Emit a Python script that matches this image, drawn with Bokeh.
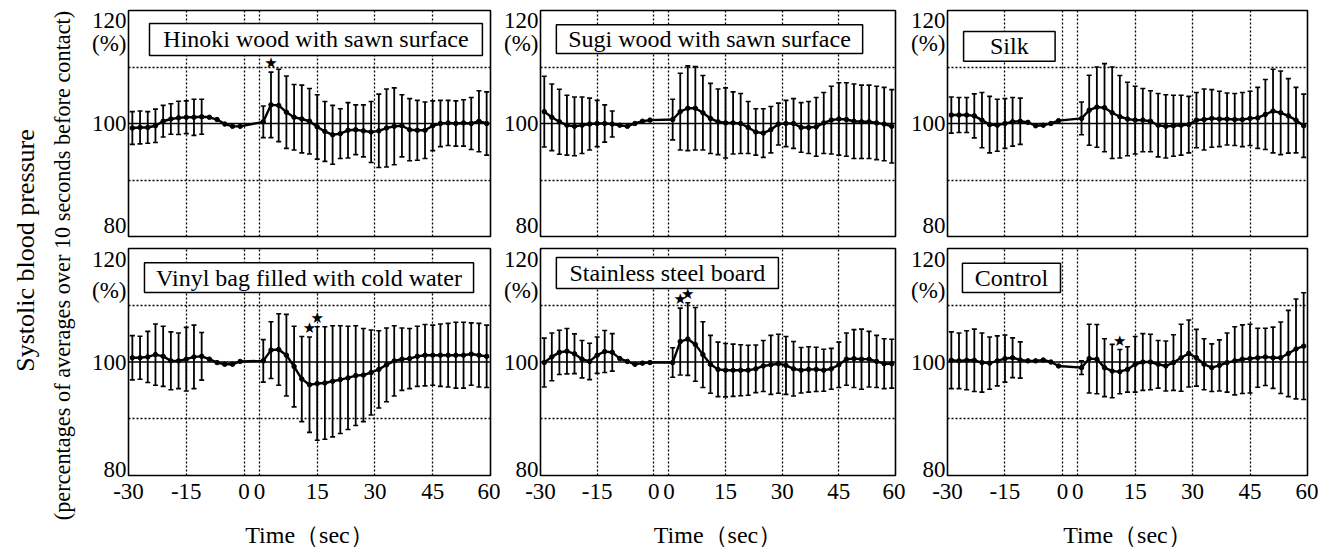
from math import pi
from bokeh.plotting import figure
from bokeh.models import (ColumnDataSource, Whisker, TeeHead, Span, Label,
                          BoxAnnotation, FixedTicker, Range1d)
from bokeh.layouts import row, column
from bokeh.embed import file_html
from bokeh.resources import INLINE
from bokeh.core.properties import value

# ---------------- data ----------------
pre_time = [-29, -27, -25, -23, -21, -19, -17, -15, -13, -11, -9, -7, -5, -3, -1]
post_time = [1, 3, 5, 7, 9, 11, 13, 15, 17, 19, 21, 23, 25, 27, 29,
             31, 33, 35, 37, 39, 41, 43, 45, 47, 49, 51, 53, 55, 57, 59]

pre_tick_times = [-30, -15, 0]
post_tick_times = [0, 15, 30, 45, 60]

hinoki_pre_mean = [99.2, 99.3, 99.3, 99.6, 100.4, 100.8, 101.0, 101.1, 101.1, 101.2, 101.1, 100.7, 99.9, 99.5, 99.5]
hinoki_pre_sd = [2.9, 2.9, 2.8, 2.95, 2.8, 2.7, 2.95, 2.9, 3.2, 3.1, None, None, None, None, None]
hinoki_post_mean = [100.3, 103.3, 103.2, 102.0, 101.1, 100.8, 100.4, 99.4, 98.6, 98.0, 98.2, 98.8, 98.9, 98.7, 98.5,
                    98.7, 99.2, 99.5, 99.6, 98.9, 98.8, 98.8, 99.6, 100.0, 100.1, 100.0, 100.1, 100.0, 100.4, 100.0]
hinoki_post_sd = [2.8, 5.8, 6.4, 6.4, 5.8, 6.0, 5.8, 5.7, 5.3, 5.2, 4.4, 4.9, 4.4, 4.6, 5.4,
                  6.5, 6.9, 6.8, 5.5, 5.5, 5.3, 5.0, 4.4, 4.1, 4.0, 4.0, 4.1, 4.6, 5.4, 5.6]
hinoki_stars = [3]

sugi_pre_mean = [102.1, 101.1, 100.3, 99.7, 99.5, 99.7, 99.9, 100.0, 100.0, 99.9, 99.7, 99.5, 100.0, 100.4, 100.6]
sugi_pre_sd = [6.25, 5.9, 5.75, 5.3, 5.2, 5.0, 4.6, 4.1, 3.3, 2.3, None, None, None, None, None]
sugi_post_mean = [100.7, 102.1, 102.7, 102.7, 101.9, 100.9, 100.3, 100.1, 100.1, 100.0, 99.3, 98.5, 98.3, 98.9, 99.9,
                  100.0, 100.0, 99.3, 99.3, 99.4, 100.1, 100.6, 100.8, 100.7, 100.4, 100.3, 100.3, 100.1, 99.9, 99.5]
sugi_post_sd = [3.6, 6.8, 7.5, 7.4, 6.6, 6.2, 5.8, 6.2, 5.5, 5.3, 4.6, 4.1, 4.3, 4.1, 3.7,
                4.1, 4.4, 4.4, 4.6, 5.2, 5.4, 6.0, 6.4, 6.5, 6.6, 6.5, 6.5, 6.5, 6.5, 6.5]
sugi_stars = []

silk_pre_mean = [101.5, 101.5, 101.5, 101.35, 100.6, 99.8, 99.7, 100.0, 100.3, 100.4, 100.2, 99.6, 99.7, 100.0, 100.5]
silk_pre_sd = [3.2, 3.1, 3.1, 3.9, 4.9, 5.0, 4.6, 4.4, 4.3, 4.1, None, None, None, None, None]
silk_post_mean = [100.9, 102.35, 102.9, 102.8, 101.9, 101.2, 100.8, 100.6, 100.6, 100.4, 99.7, 99.5, 99.6, 99.7, 99.8,
                  100.6, 100.7, 100.9, 100.8, 100.8, 100.7, 100.7, 100.9, 101.0, 101.6, 102.2, 101.9, 101.35, 100.6, 99.6]
silk_post_sd = [2.9, 6.2, 7.1, 7.8, 8.1, 7.3, 6.5, 6.0, 5.6, 5.4, 5.6, 5.6, 5.4, 5.3, 5.0,
                4.9, 5.4, 5.1, 4.9, 4.6, 4.6, 4.8, 4.8, 5.4, 6.2, 7.4, 7.4, 6.6, 5.8, 5.6]
silk_stars = []

vinyl_pre_mean = [100.75, 100.75, 100.9, 101.3, 101.0, 100.2, 100.2, 100.5, 100.9, 101.0, 100.5, 99.9, 99.6, 99.6, 100.1]
vinyl_pre_sd = [3.9, 3.8, 4.5, 5.4, 5.3, 5.1, 4.9, 5.6, 5.6, 4.2, None, None, None, None, None]
vinyl_post_mean = [100.2, 102.1, 102.2, 101.2, 99.2, 97.0, 96.0, 96.2, 96.3, 96.6, 96.9, 97.2, 97.6, 97.7, 98.15,
                   98.7, 99.5, 100.2, 100.5, 100.6, 101.0, 101.2, 101.2, 101.2, 101.2, 101.2, 101.2, 101.4, 101.2, 101.0]
vinyl_post_sd = [3.75, 5.0, 6.3, 7.2, 7.1, 7.5, 8.4, 10.0, 9.9, 9.8, 9.5, 9.1, 8.8, 8.2, 7.5,
                 6.8, 6.5, 6.2, 5.5, 5.3, 5.3, 5.4, 5.3, 5.5, 5.6, 5.8, 5.8, 5.5, 5.6, 5.5]
vinyl_stars = [13, 15]

steel_pre_mean = [99.9, 100.9, 101.7, 101.9, 101.45, 100.5, 100.1, 101.2, 101.85, 101.7, 100.6, 100.1, 99.6, 99.8, 99.9]
steel_pre_sd = [4.3, 4.2, 3.9, 4.0, 3.5, 3.3, 3.2, 3.2, 3.7, 3.3, None, None, None, None, None]
steel_post_mean = [99.9, 103.6, 104.05, 103.1, 101.3, 99.6, 98.7, 98.55, 98.55, 98.55, 98.55, 98.8, 99.3, 99.5, 99.7,
                   99.4, 98.8, 98.55, 98.7, 98.7, 98.55, 98.8, 99.5, 100.5, 100.6, 100.5, 100.5, 100.1, 99.7, 99.7]
steel_post_sd = [2.6, 5.9, 6.4, 6.5, 5.8, 5.1, 4.8, 4.7, 4.6, 4.5, 4.4, 4.2, 4.5, 5.2, 5.2,
                 5.1, 4.8, 4.0, 4.0, 3.9, 3.7, 3.6, 4.0, 4.6, 5.1, 5.3, 4.9, 4.6, 4.4, 4.3]
steel_stars = [3, 5]

control_pre_mean = [100.3, 100.2, 100.3, 100.3, 99.9, 99.8, 100.2, 100.6, 100.75, 100.35, 100.2, 100.2, 100.35, 100.0, 99.3]
control_pre_sd = [5.0, 4.9, 5.2, 5.5, 5.2, 4.6, 4.4, 4.15, 3.5, 3.2, None, None, None, None, None]
control_post_mean = [99.0, 100.6, 100.5, 99.0, 98.4, 98.3, 98.7, 99.6, 100.0, 100.0, 99.6, 99.3, 99.9, 100.75, 101.5,
                     100.75, 99.6, 99.0, 99.4, 99.9, 100.2, 100.5, 100.6, 100.75, 100.9, 100.75, 100.75, 101.5, 102.3, 102.8]
control_post_sd = [1.2, 6.05, 6.1, 5.1, 4.7, 3.9, 4.0, 4.9, 5.0, 4.9, 4.2, 4.4, 4.9, 5.9, 5.9,
                   5.0, 4.5, 4.2, 4.5, 5.2, 6.0, 6.05, 6.05, 5.2, 5.05, 5.4, 6.3, 7.6, 8.8, 9.4]
control_stars = [11]

titles = ["Hinoki wood with sawn surface", "Sugi wood with sawn surface", "Silk",
          "Vinyl bag filled with cold water", "Stainless steel board", "Control"]

# ---------------- layout constants ----------------
GAP = 4  # display gap between the "0" of the pre-contact and post-contact axes
SERIF = "Liberation Serif"
LEFT_W = 83
COL_W = [417, 405, 413]
COL_L = [45, 37, 42]
COL_R = [10, 10, 11]
ROW_H = [242, 310]
ROW_T = [10, 6]
ROW_B = [6, 77]
# title box (left, right, bottom, top) in display coordinates
BOXES = [(-24.55, 61.9, 112.04, 117.7), (-25.8, 55.3, 112.4, 117.5), (-25.8, -1.9, 111.0, 116.3),
         (-25.85, 59.6, 112.25, 117.5), (-25.8, 33.0, 112.95, 118.4), (-26.1, -0.5, 112.25, 117.4)]
# where the y labels sit (they are inset from the frame edges, as in the original)
Y_LABELS = [{82.0: "80", 100.0: "100", 114.2: "(%)", 118.2: "120"},
            {81.0: "80", 100.0: "100", 112.6: "(%)", 118.0: "120"}]

series = [
    (hinoki_pre_mean, hinoki_pre_sd, hinoki_post_mean, hinoki_post_sd, hinoki_stars),
    (sugi_pre_mean, sugi_pre_sd, sugi_post_mean, sugi_post_sd, sugi_stars),
    (silk_pre_mean, silk_pre_sd, silk_post_mean, silk_post_sd, silk_stars),
    (vinyl_pre_mean, vinyl_pre_sd, vinyl_post_mean, vinyl_post_sd, vinyl_stars),
    (steel_pre_mean, steel_pre_sd, steel_post_mean, steel_post_sd, steel_stars),
    (control_pre_mean, control_pre_sd, control_post_mean, control_post_sd, control_stars),
]


def make_panel(idx):
    rowi, col = divmod(idx, 3)
    pre_m, pre_s, post_m, post_s, stars = series[idx]
    p = figure(width=COL_W[col], height=ROW_H[rowi],
               x_range=Range1d(-30, 60 + GAP), y_range=Range1d(80, 120),
               output_backend="svg", toolbar_location=None,
               min_border_left=COL_L[col], min_border_right=COL_R[col],
               min_border_top=ROW_T[rowi], min_border_bottom=ROW_B[rowi])
    p.background_fill_color = "white"
    p.border_fill_color = "white"
    p.outline_line_color = "black"
    p.outline_line_width = 1.6

    # grids
    tick_pos = pre_tick_times + [t + GAP for t in post_tick_times]
    tick_lab = [str(t) for t in pre_tick_times + post_tick_times]
    p.xgrid.ticker = FixedTicker(ticks=tick_pos[1:-1])
    p.ygrid.ticker = FixedTicker(ticks=[90, 110])
    for g in (p.xgrid, p.ygrid):
        g.grid_line_color = "black"
        g.grid_line_dash = "2 2"
        g.grid_line_width = 1.3
        g.grid_line_alpha = 1.0
    p.add_layout(Span(location=100, dimension="width", line_color="black", line_width=1.6))

    # y axis
    yl = Y_LABELS[rowi]
    p.yaxis.ticker = FixedTicker(ticks=list(yl.keys()))
    p.yaxis.major_label_overrides = yl
    p.yaxis.axis_line_color = None
    p.yaxis.major_tick_line_color = None
    p.yaxis.minor_tick_line_color = None
    p.yaxis.major_tick_in = 0
    p.yaxis.major_tick_out = 0
    p.yaxis.major_label_standoff = 2
    p.yaxis.major_label_text_font = SERIF
    p.yaxis.major_label_text_font_size = "23px"
    p.yaxis.major_label_text_color = "black"

    # x axis
    if rowi == 0:
        p.xaxis.visible = False
    else:
        p.xaxis.ticker = FixedTicker(ticks=tick_pos)
        p.xaxis.major_label_overrides = dict(zip(tick_pos, tick_lab))
        p.xaxis.axis_line_color = None
        p.xaxis.major_tick_line_color = None
        p.xaxis.minor_tick_line_color = None
        p.xaxis.major_tick_in = 0
        p.xaxis.major_tick_out = 0
        p.xaxis.major_label_standoff = 8
        p.xaxis.major_label_text_font = SERIF
        p.xaxis.major_label_text_font_size = "23px"
        p.xaxis.major_label_text_color = "black"
        p.xaxis.axis_label = "Time\uff08sec\uff09"
        p.xaxis.axis_label_text_font = SERIF
        p.xaxis.axis_label_text_font_size = "24px"
        p.xaxis.axis_label_text_font_style = "normal"
        p.xaxis.axis_label_text_color = "black"
        p.xaxis.axis_label_standoff = 20

    # error bars
    xs_all = pre_time + [t + GAP for t in post_time]
    m_all = pre_m + post_m
    s_all = pre_s + post_s
    bx, bu, bl = [], [], []
    for x, m, s in zip(xs_all, m_all, s_all):
        if s is not None:
            bx.append(x); bu.append(m + s); bl.append(m - s)
    src = ColumnDataSource(dict(x=bx, upper=bu, lower=bl))
    p.add_layout(Whisker(source=src, base="x", upper="upper", lower="lower",
                         dimension="height", line_color="black", line_width=1.8,
                         upper_head=TeeHead(size=5, line_color="black", line_width=1.6),
                         lower_head=TeeHead(size=5, line_color="black", line_width=1.6)))

    # mean line
    p.line(xs_all, m_all, line_color="black", line_width=2.4)
    p.scatter(xs_all, m_all, size=4.5, marker="circle", fill_color="black", line_color="black")

    # significance stars
    if stars:
        sx, sy = [], []
        for t in stars:
            i = post_time.index(t)
            sx.append(t + GAP)
            sy.append(post_m[i] + post_s[i])
        p.text(x=sx, y=sy, text=["\u2605"] * len(sx), text_font=value("DejaVu Sans"),
               text_font_size="15px", text_align="center", text_baseline="bottom",
               text_color="black")

    # title box
    l, r, b, t = BOXES[idx]
    p.add_layout(BoxAnnotation(left=l, right=r, bottom=b, top=t, fill_color="white",
                               fill_alpha=1.0, line_color="black", line_width=1.5, line_alpha=1.0))
    p.add_layout(Label(x=(l + r) / 2, y=(b + t) / 2, text=titles[idx], text_align="center",
                       text_baseline="middle", text_font=SERIF, text_font_size="24px",
                       text_color="black"))
    return p


panels = [make_panel(i) for i in range(6)]

# left label strip
H = sum(ROW_H)
left = figure(width=LEFT_W, height=H, x_range=Range1d(0, LEFT_W), y_range=Range1d(0, H),
              output_backend="svg", toolbar_location=None, min_border=0,
              x_axis_location=None, y_axis_location=None)
left.outline_line_color = None
left.xgrid.visible = False
left.ygrid.visible = False
left.add_layout(Label(x=25, y=H - 250, text="Systolic blood pressure", angle=pi / 2,
                      text_align="center", text_baseline="middle", text_font=SERIF,
                      text_font_size="26px", text_color="black"))
left.add_layout(Label(x=62, y=H - 265, text="(percentages of averages over 10 seconds before contact)",
                      angle=pi / 2, text_align="center", text_baseline="middle", text_font=SERIF,
                      text_font_size="22.3px", text_color="black"))

layout = row(left, column(row(*panels[:3]), row(*panels[3:])))
open("out.html", "w").write(file_html(layout, INLINE))
